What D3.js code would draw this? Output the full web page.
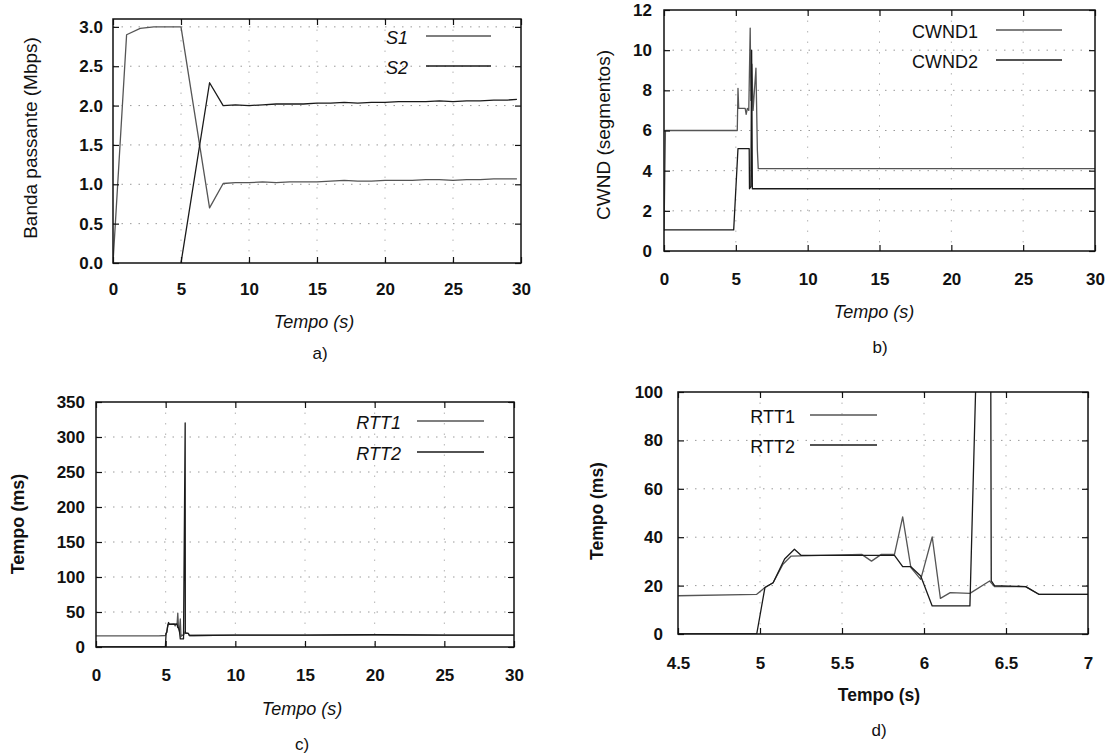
<!DOCTYPE html>
<html>
<head>
<meta charset="utf-8">
<script src="https://cdn.jsdelivr.net/npm/d3@7"></script>
<style>
  html, body { margin: 0; padding: 0; background: #fff; }
  svg { display: block; }
  text { font-family: "Liberation Sans", Arial, sans-serif; fill: #111; }
</style>
</head>
<body>
<svg id="chart" width="1114" height="754"></svg>
<script>
// ---------------- data ----------------
// a) bandwidth
const aTicksX = [0, 5, 10, 15, 20, 25, 30];
const aTicksY = [0, 0.5, 1, 1.5, 2, 2.5, 3];
const s1Time = [0, 1, 2, 3, 4, 5, 7.1, 8.1, 9, 10, 11, 12, 13, 14, 15, 16, 17, 18, 19, 20, 21, 22, 23, 24, 25, 26, 27, 28, 29, 29.7];
const s1Mbps = [0, 2.9, 2.98, 3.0, 3.0, 3.0, 0.7, 1.01, 1.02, 1.02, 1.03, 1.02, 1.03, 1.03, 1.03, 1.04, 1.05, 1.04, 1.04, 1.05, 1.05, 1.05, 1.06, 1.06, 1.05, 1.06, 1.06, 1.07, 1.07, 1.07];
const s2Time = [5, 7.1, 8.1, 9, 10, 11, 12, 13, 14, 15, 16, 17, 18, 19, 20, 21, 22, 23, 24, 25, 26, 27, 28, 29, 29.7];
const s2Mbps = [0, 2.29, 2.0, 2.01, 2.0, 2.01, 2.02, 2.02, 2.02, 2.03, 2.03, 2.04, 2.03, 2.04, 2.04, 2.05, 2.05, 2.05, 2.06, 2.05, 2.06, 2.06, 2.07, 2.07, 2.08];

// b) congestion window
const bTicksX = [0, 5, 10, 15, 20, 25, 30];
const bTicksY = [0, 2, 4, 6, 8, 10, 12];
const cwnd1Time = [0, 0.1, 5.1, 5.15, 5.2, 5.65, 5.72, 5.8, 5.9, 6.0, 6.05, 6.12, 6.2, 6.4, 6.5, 6.56, 30];
const cwnd1Seg  = [1, 6, 6, 8.1, 7.1, 7.1, 6.8, 7.1, 7.0, 11.1, 7.5, 9.3, 7.0, 9.1, 5.0, 4.1, 4.1];
const cwnd2Time = [0, 4.85, 5.15, 5.93, 5.95, 6.05, 6.1, 6.15, 30];
const cwnd2Seg  = [1.05, 1.05, 5.1, 5.1, 3.1, 3.2, 10, 3.1, 3.1];

// c) and d) round trip time
const cTicksX = [0, 5, 10, 15, 20, 25, 30];
const cTicksY = [0, 50, 100, 150, 200, 250, 300, 350];
const dTicksX = [4.5, 5, 5.5, 6, 6.5, 7];
const dTicksY = [0, 20, 40, 60, 80, 100];
const rtt1Time = [0, 4.5, 4.98, 5.03, 5.08, 5.14, 5.19, 5.62, 5.68, 5.74, 5.82, 5.87, 5.92, 5.98, 6.05, 6.1, 6.16, 6.28, 6.4, 6.43, 6.62, 6.7, 7, 10, 15, 20, 25, 30];
const rtt1Ms   = [16, 15.8, 16.4, 19.2, 21.2, 28.8, 32.2, 32.9, 30.1, 32.9, 32.9, 48.4, 27.4, 22.6, 40.1, 14.7, 17.1, 16.8, 21.9, 19.6, 19.6, 16.4, 16.4, 17, 17, 17.5, 17, 17];
const rtt2Time = [0, 4.98, 5.03, 5.08, 5.15, 5.21, 5.25, 5.82, 5.87, 5.92, 5.98, 6.05, 6.28, 6.4, 6.41, 6.43, 6.62, 6.7, 7, 10, 15, 20, 25, 30];
const rtt2Ms   = [0, 0, 19.2, 21.2, 31, 35, 32.5, 32.5, 27.8, 27.8, 24, 11.6, 11.6, 320, 22, 20, 19.6, 16.4, 16.4, 17, 17, 17.5, 17, 17];

const zip = (t, v) => t.map((d, i) => [d, v[i]]);

// ---------------- drawing ----------------
const svg = d3.select('#chart');
svg.append('rect').attr('width', 1114).attr('height', 754).attr('fill', '#fff');

const C1 = '#555', C2 = '#1a1a1a';

function panel(cfg) {
  const B = cfg.box;
  const g = svg.append('g');
  const x = d3.scaleLinear().domain(cfg.xDomain).range([B.l, B.r]);
  const y = d3.scaleLinear().domain(cfg.yDomain).range([B.b, B.t]);

  // grid (dotted)
  g.selectAll('.gy').data(cfg.yTicks.filter(v => y(v) > B.t + 2 && y(v) < B.b - 2))
    .join('line').attr('x1', B.l).attr('x2', B.r).attr('y1', d => y(d)).attr('y2', d => y(d))
    .attr('stroke', '#9a9a9a').attr('stroke-width', 1).attr('stroke-dasharray', '1.5,7');
  g.selectAll('.gx').data(cfg.xTicks.filter(v => x(v) > B.l + 2 && x(v) < B.r - 2))
    .join('line').attr('y1', B.t).attr('y2', B.b).attr('x1', d => x(d)).attr('x2', d => x(d))
    .attr('stroke', '#b5b5b5').attr('stroke-width', 1).attr('stroke-dasharray', '1.5,9');

  // series
  const clipId = 'clip-' + cfg.name;
  svg.append('clipPath').attr('id', clipId).append('rect')
    .attr('x', B.l).attr('y', B.t).attr('width', B.r - B.l).attr('height', B.b - B.t);
  const line = d3.line().x(d => x(d[0])).y(d => y(d[1]));
  cfg.series.forEach(s => {
    g.append('path').datum(s.data).attr('d', line).attr('fill', 'none')
      .attr('stroke', s.color).attr('stroke-width', s.width).attr('stroke-linejoin', 'round')
      .attr('clip-path', `url(#${clipId})`);
  });

  // axes
  const fmt = cfg.yFormat;
  const ax = [
    d3.axisBottom(x).tickValues(cfg.xTicks).tickFormat(cfg.xFormat).tickSizeInner(-6).tickSizeOuter(0).tickPadding(cfg.xPad),
    d3.axisLeft(y).tickValues(cfg.yTicks).tickFormat(fmt).tickSizeInner(-6).tickSizeOuter(0).tickPadding(cfg.yPad),
    d3.axisTop(x).tickValues(cfg.xTicks).tickFormat('').tickSizeInner(-6).tickSizeOuter(0),
    d3.axisRight(y).tickValues(cfg.yTicks).tickFormat('').tickSizeInner(-6).tickSizeOuter(0)
  ];
  const tr = [`translate(0,${B.b})`, `translate(${B.l},0)`, `translate(0,${B.t})`, `translate(${B.r},0)`];
  ax.forEach((a, i) => {
    const ag = g.append('g').attr('transform', tr[i]).call(a);
    ag.select('.domain').remove();
    ag.selectAll('line').attr('stroke', '#111').attr('stroke-width', 1.2);
    ag.selectAll('text').attr('font-size', 17).attr('font-weight', 'bold')
      .attr('font-family', '"Liberation Sans", Arial, sans-serif').attr('fill', '#111');
  });

  // frame
  g.append('rect').attr('x', B.l).attr('y', B.t).attr('width', B.r - B.l).attr('height', B.b - B.t)
    .attr('fill', 'none').attr('stroke', '#111').attr('stroke-width', 1.5);

  // titles
  const yt = cfg.yTitle;
  g.append('text').attr('transform', `translate(${yt.x},${yt.y}) rotate(-90)`)
    .attr('text-anchor', 'middle').attr('dominant-baseline', 'central')
    .attr('font-size', yt.size).attr('font-weight', yt.weight).text(yt.text);
  const xt = cfg.xTitle;
  g.append('text').attr('x', xt.x).attr('y', xt.y).attr('text-anchor', 'middle')
    .attr('font-size', xt.size).attr('font-weight', xt.weight).attr('font-style', xt.style).text(xt.text);
  g.append('text').attr('x', cfg.caption.x).attr('y', cfg.caption.y).attr('text-anchor', 'middle')
    .attr('font-size', 17).text(cfg.caption.text);

  // legend
  const L = cfg.legend;
  cfg.series.forEach((s, i) => {
    const ly = L.y[i];
    g.append('text').attr('x', L.textRight).attr('y', ly).attr('text-anchor', 'end')
      .attr('dominant-baseline', 'central').attr('font-size', 18)
      .attr('font-style', L.style).text(s.label);
    g.append('line').attr('x1', L.x1).attr('x2', L.x2).attr('y1', ly - 2).attr('y2', ly - 2)
      .attr('stroke', s.color).attr('stroke-width', s.width);
  });
}

panel({
  name: 'a',
  box: { l: 113, r: 521, t: 19, b: 263 },
  xDomain: [0, 30], yDomain: [0, 3.1],
  xTicks: aTicksX, yTicks: aTicksY,
  xFormat: d3.format('d'), yFormat: d3.format('.1f'),
  xPad: 20, yPad: 10,
  yTitle: { text: 'Banda passante (Mbps)', x: 30, y: 138, size: 19, weight: 'normal' },
  xTitle: { text: 'Tempo (s)', x: 314, y: 328, size: 18, weight: 'normal', style: 'italic' },
  caption: { text: 'a)', x: 320, y: 359 },
  legend: { textRight: 408, x1: 426, x2: 491, y: [38, 68], style: 'italic' },
  series: [
    { label: 'S1', data: zip(s1Time, s1Mbps), color: C1, width: 1.3 },
    { label: 'S2', data: zip(s2Time, s2Mbps), color: C2, width: 1.3 }
  ]
});

panel({
  name: 'b',
  box: { l: 664, r: 1095, t: 10, b: 251 },
  xDomain: [0, 30], yDomain: [0, 12],
  xTicks: bTicksX, yTicks: bTicksY,
  xFormat: d3.format('d'), yFormat: d3.format('d'),
  xPad: 22, yPad: 12,
  yTitle: { text: 'CWND (segmentos)', x: 603, y: 135, size: 19, weight: 'normal' },
  xTitle: { text: 'Tempo (s)', x: 874, y: 318, size: 18, weight: 'normal', style: 'italic' },
  caption: { text: 'b)', x: 880, y: 353 },
  legend: { textRight: 978, x1: 996, x2: 1062, y: [32, 62], style: 'normal' },
  series: [
    { label: 'CWND1', data: zip(cwnd1Time, cwnd1Seg), color: C1, width: 1.3 },
    { label: 'CWND2', data: zip(cwnd2Time, cwnd2Seg), color: C2, width: 1.3 }
  ]
});

panel({
  name: 'c',
  box: { l: 96, r: 514, t: 402, b: 647 },
  xDomain: [0, 30], yDomain: [0, 350],
  xTicks: cTicksX, yTicks: cTicksY,
  xFormat: d3.format('d'), yFormat: d3.format('d'),
  xPad: 22, yPad: 11,
  yTitle: { text: 'Tempo (ms)', x: 18, y: 524, size: 18, weight: 'bold' },
  xTitle: { text: 'Tempo (s)', x: 302, y: 715, size: 18, weight: 'normal', style: 'italic' },
  caption: { text: 'c)', x: 302, y: 750 },
  legend: { textRight: 401, x1: 417, x2: 484, y: [423, 454], style: 'italic' },
  series: [
    { label: 'RTT1', data: zip(rtt1Time, rtt1Ms), color: C1, width: 1.3 },
    { label: 'RTT2', data: zip(rtt2Time, rtt2Ms), color: C2, width: 1.3 }
  ]
});

panel({
  name: 'd',
  box: { l: 678, r: 1088, t: 392, b: 634 },
  xDomain: [4.5, 7], yDomain: [0, 100],
  xTicks: dTicksX, yTicks: dTicksY,
  xFormat: d => String(d), yFormat: d3.format('d'),
  xPad: 23, yPad: 15,
  yTitle: { text: 'Tempo (ms)', x: 597, y: 511, size: 17.5, weight: 'bold' },
  xTitle: { text: 'Tempo (s)', x: 879, y: 701, size: 17.5, weight: 'bold', style: 'normal' },
  caption: { text: 'd)', x: 879, y: 736 },
  legend: { textRight: 795, x1: 810, x2: 877, y: [417, 447], style: 'normal' },
  series: [
    { label: 'RTT1', data: zip(rtt1Time, rtt1Ms), color: C1, width: 1.3 },
    { label: 'RTT2', data: zip(rtt2Time, rtt2Ms), color: C2, width: 1.3 }
  ]
});
</script>
</body>
</html>
